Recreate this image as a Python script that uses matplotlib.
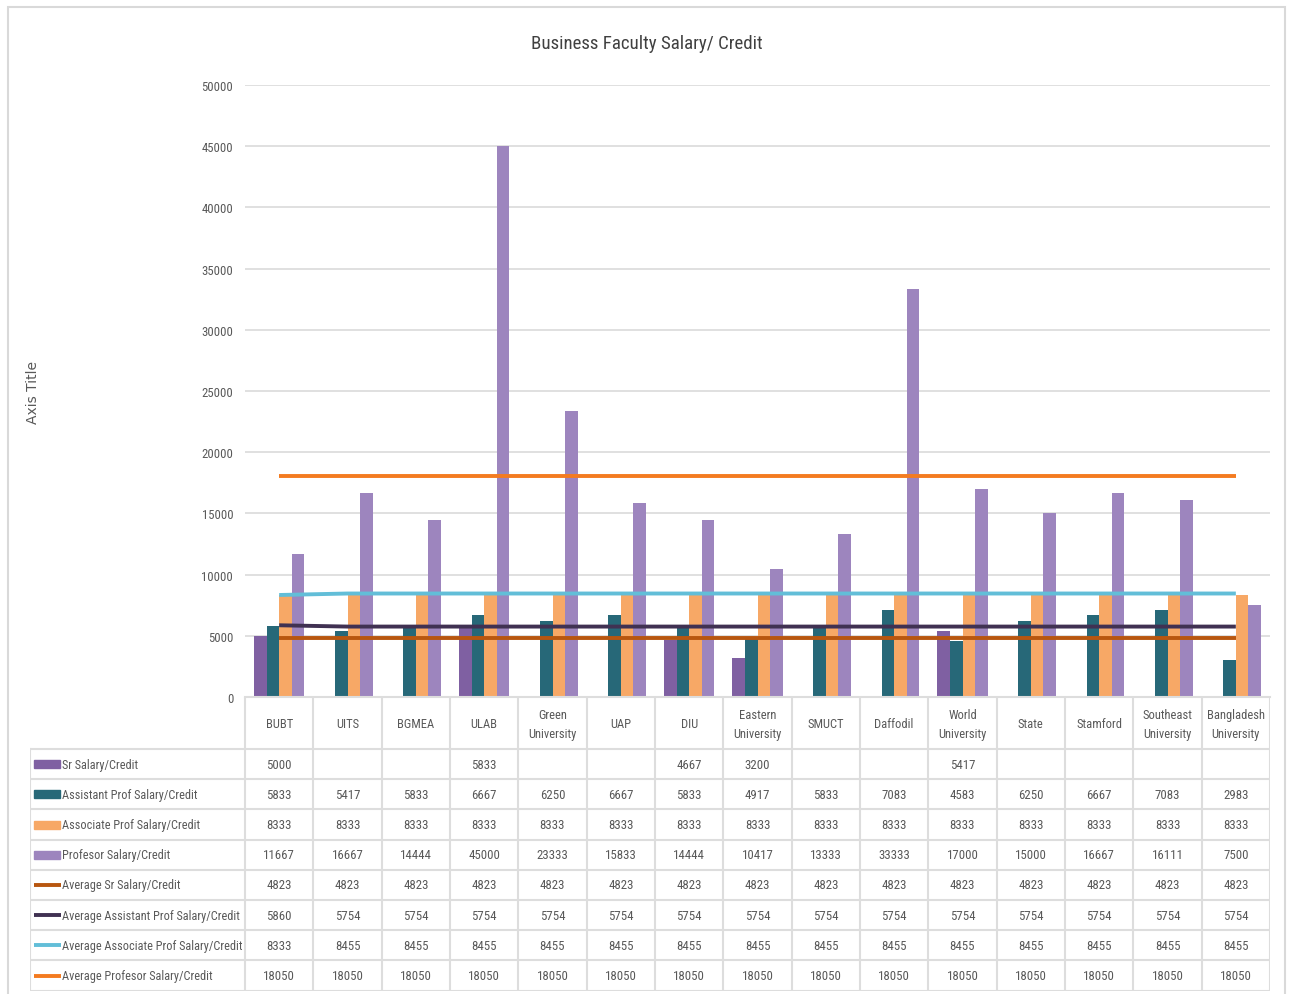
import numpy as np
import matplotlib
matplotlib.use('Agg')
from matplotlib import pyplot as plt
from matplotlib.patches import Rectangle
from matplotlib import font_manager
from matplotlib.font_manager import FontProperties
from matplotlib.textpath import TextPath

universities = ['BUBT', 'UITS', 'BGMEA', 'ULAB', 'Green\nUniversity', 'UAP', 'DIU',
                'Eastern\nUniversity', 'SMUCT', 'Daffodil', 'World\nUniversity', 'State',
                'Stamford', 'Southeast\nUniversity', 'Bangladesh\nUniversity']

sr_salary = [5000, None, None, 5833, None, None, 4667, 3200, None, None, 5417, None, None, None, None]
assistant_salary = [5833, 5417, 5833, 6667, 6250, 6667, 5833, 4917, 5833, 7083, 4583, 6250, 6667, 7083, 2983]
associate_salary = [8333] * 15
profesor_salary = [11667, 16667, 14444, 45000, 23333, 15833, 14444, 10417, 13333, 33333, 17000, 15000, 16667, 16111, 7500]
avg_sr = [4823] * 15
avg_assistant = [5860] + [5754] * 14
avg_associate = [8333] + [8455] * 14
avg_profesor = [18050] * 15

bar_series = [
    ('Sr Salary/Credit', sr_salary, '#7F60A2'),
    ('Assistant Prof Salary/Credit', assistant_salary, '#276878'),
    ('Associate Prof Salary/Credit', associate_salary, '#F7A866'),
    ('Profesor Salary/Credit', profesor_salary, '#9D85BE'),
]
line_series = [
    ('Average Sr Salary/Credit', avg_sr, '#B8560F'),
    ('Average Assistant Prof Salary/Credit', avg_assistant, '#403152'),
    ('Average Associate Prof Salary/Credit', avg_associate, '#62BED8'),
    ('Average Profesor Salary/Credit', avg_profesor, '#F47B20'),
]

# look for a narrow / condensed face, the original uses a squeezed Calibri look
prop = None
for pref in ['Liberation Sans Narrow', 'Roboto Condensed', 'Open Sans Condensed', 'DejaVu Sans']:
    for f in font_manager.fontManager.ttflist:
        nm = f.name + ' ' + str(f.stretch) + ' ' + f.fname
        if pref.split()[0] in f.name and ('Narrow' in nm or 'ondensed' in nm) \
                and f.style == 'normal' and f.weight in (400, 'normal', 'regular'):
            prop = FontProperties(fname=f.fname)
            break
    if prop is not None:
        break
if prop is None:
    prop = FontProperties(family='Liberation Sans')


def fit(text, target_px, max_size):
    wpt = TextPath((0, 0), text, size=10, prop=prop).get_extents().width
    return min(max_size, 10 * target_px / (wpt * 100 / 72))


txt = '#595959'
grid = '#DDDDDD'

W, H = 1290, 995
fig = plt.figure(figsize=(W / 100, H / 100), dpi=100)

def fx(px):
    return px / W

def fy(py):
    return 1 - py / H

# outer chart frame
fig.patches.append(Rectangle((fx(8), fy(1000)), fx(1285) - fx(8), fy(8) - fy(1000),
                             transform=fig.transFigure, fill=False, edgecolor='#D9D9D9', lw=1.5))

left, right, top, bottom = 245, 1270, 86, 698
ax = fig.add_axes([fx(left), fy(bottom), fx(right) - fx(left), fy(top) - fy(bottom)])

x = np.arange(len(universities))
w = 0.185
for i, (name, vals, col) in enumerate(bar_series):
    xs = [xi + (i - 1.5) * w for xi, v in zip(x, vals) if v is not None]
    hs = [v for v in vals if v is not None]
    ax.bar(xs, hs, width=w, color=col, zorder=2)
for name, vals, col in line_series:
    ax.plot(x, vals, color=col, lw=2.8, zorder=3, solid_capstyle='butt')

ax.set_xlim(-0.5, len(universities) - 0.5)
ax.set_ylim(0, 50000)
ax.set_yticks(np.arange(0, 50001, 5000))
ax.yaxis.grid(True, color=grid, lw=1.3, zorder=0)
ax.set_axisbelow(True)
for s in ['top', 'right', 'left']:
    ax.spines[s].set_visible(False)
ax.spines['bottom'].set_color(grid)
ax.spines['bottom'].set_linewidth(1.5)
ax.set_xticks([])
tick_size = fit('50000', 30, 10)
ax.tick_params(axis='y', length=0, pad=8.5, labelcolor=txt)
for lab in ax.get_yticklabels():
    lab.set_fontproperties(prop)
    lab.set_fontsize(tick_size)

fig.text(fx(647), fy(44), 'Business Faculty Salary/ Credit', ha='center', va='center',
         fontproperties=prop, fontsize=fit('Business Faculty Salary/ Credit', 230, 15), color='#404040')
fig.text(fx(33), fy(393), 'Axis Title', ha='center', va='center', rotation=90,
         fontsize=10, color=txt, family='DejaVu Sans')

# data table under the axis
tab_left = 30
tax = fig.add_axes([fx(tab_left), fy(992), fx(right) - fx(tab_left), fy(bottom) - fy(992)])
tax.set_xlim(tab_left, right)
tax.set_ylim(992, bottom)
tax.axis('off')

colw = (right - left) / len(universities)
header_bottom = 750
rowh = 30.2
nrows = len(bar_series) + len(line_series)

# vertical lines
for k in range(len(universities) + 1):
    xv = left + k * colw
    tax.plot([xv, xv], [bottom, header_bottom + nrows * rowh], color=grid, lw=1.5)
tax.plot([tab_left, tab_left], [header_bottom, header_bottom + nrows * rowh], color=grid, lw=1.5)
# horizontal lines
for r in range(nrows + 1):
    yv = header_bottom + r * rowh
    tax.plot([tab_left, right], [yv, yv], color=grid, lw=1.5)

head_size = fit('Bangladesh', 56, 10)
for k, u in enumerate(universities):
    tax.text(left + (k + 0.5) * colw, (bottom + header_bottom) / 2 + 1, u, ha='center', va='center',
             fontproperties=prop, fontsize=head_size, color=txt, linespacing=1.6)

name_size = fit('Average Associate Prof Salary/Credit', 179, 10)
num_size = fit('18050', 30, 10)
all_series = [(n, v, c, 'bar') for n, v, c in bar_series] + [(n, v, c, 'line') for n, v, c in line_series]
for r, (name, vals, col, kind) in enumerate(all_series):
    yc = header_bottom + (r + 0.5) * rowh
    if kind == 'bar':
        tax.add_patch(Rectangle((34, yc - 4), 26, 8, color=col))
    else:
        tax.plot([34, 61], [yc, yc], color=col, lw=2.8, solid_capstyle='butt')
    tax.text(62, yc, name, ha='left', va='center', fontproperties=prop, fontsize=name_size, color=txt)
    for k, v in enumerate(vals):
        if v is not None:
            tax.text(left + (k + 0.5) * colw, yc, str(v), ha='center', va='center',
                     fontproperties=prop, fontsize=num_size, color=txt)

fig.savefig('out.png', dpi=100, facecolor='white')
